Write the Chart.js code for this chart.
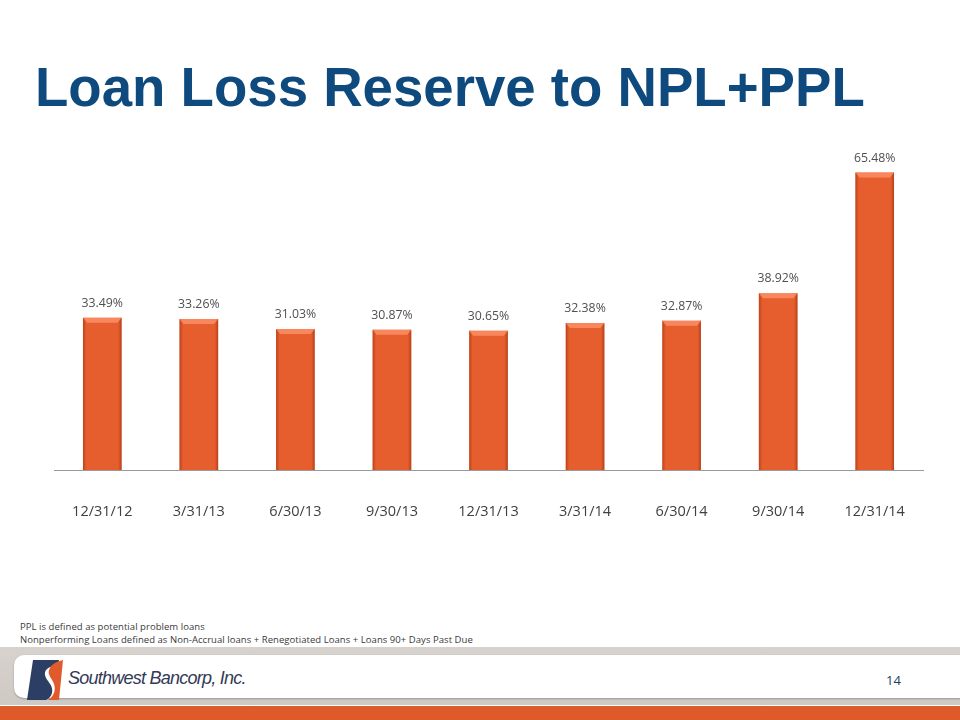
<!DOCTYPE html>
<html>
<head>
<meta charset="utf-8">
<script src="https://cdn.jsdelivr.net/npm/chart.js@4/dist/chart.umd.min.js"></script>
<style>
  html, body { margin: 0; padding: 0; background: #ffffff; }
  #page { position: relative; width: 960px; height: 720px; overflow: hidden; background: #fff; }
  #title { position: absolute; left: 35px; top: 56px; font-family: "Liberation Sans", Arial, sans-serif; font-weight: bold; font-size: 54.6px; color: #0e4a7d; white-space: nowrap; }
  #c { position: absolute; left: 0; top: 140px; }
  .note { position: absolute; left: 20px; font-family: "Open Sans", sans-serif; font-size: 9.5px; color: #3a3a3a; white-space: nowrap; letter-spacing: 0.05px; }
  #band { position: absolute; left: 0; top: 647px; width: 960px; height: 58px; background: linear-gradient(#d8d2ce, #cfc9c4); }
  #panel { position: absolute; left: 14px; top: 655px; width: 960px; height: 43px; background: #fff; border-radius: 10px 0 0 10px; box-shadow: 0 1px 2px rgba(0,0,0,0.25); }
  #orange { position: absolute; left: 0; top: 706px; width: 960px; height: 14px; background: #df5a2b; }
  #brand { position: absolute; left: 68px; top: 668px; font-family: "Liberation Sans", Arial, sans-serif; font-style: italic; font-size: 18px; color: #333a55; letter-spacing: -0.75px; white-space: nowrap; }
  #pnum { position: absolute; left: 886px; top: 671px; font-family: "Open Sans", sans-serif; font-size: 13px; color: #1f3d63; }
</style>
</head>
<body>
<div id="page">
  <div id="title">Loan Loss Reserve to NPL+PPL</div>
  <canvas id="c" width="960" height="390" style="width:960px;height:390px;"></canvas>
  <div class="note" style="top:620px;">PPL is defined as potential problem loans</div>
  <div class="note" style="top:633px;">Nonperforming Loans defined as Non-Accrual loans + Renegotiated Loans + Loans 90+ Days Past Due</div>
  <div id="band"></div>
  <div id="panel"></div>
  <div id="orange"></div>
  <svg style="position:absolute;left:25px;top:658px;" width="40" height="44" viewBox="0 0 40 44">
    <path d="M8 2 L34 2 L33 7 C25 8 19 11 20 17 C21 23 29 27 27 35 C26 39 23 41 21 42 L2 42 Z" fill="#2c3e63"/>
    <path d="M38 2 L34 42 L23 42 C29 38 31 32 29 26 C27 20 21 16 25 10 C27 6 31 4 38 2 Z" fill="#e05a2b"/>
  </svg>
  <div id="brand">Southwest Bancorp, Inc.</div>
  <div id="pnum">14</div>
</div>
<script>
const categories = ["12/31/12", "3/31/13", "6/30/13", "9/30/13", "12/31/13", "3/31/14", "6/30/14", "9/30/14", "12/31/14"];
const reserveRatio = [33.49, 33.26, 31.03, 30.87, 30.65, 32.38, 32.87, 38.92, 65.48];
const valueLabels = ["33.49%", "33.26%", "31.03%", "30.87%", "30.65%", "32.38%", "32.87%", "38.92%", "65.48%"];

const bevelPlugin = {
  id: 'bevel',
  afterDatasetsDraw(chart) {
    const ctx = chart.ctx;
    const meta = chart.getDatasetMeta(0);
    meta.data.forEach((bar) => {
      const w = bar.width;
      const left = bar.x - w / 2;
      const top = bar.y;
      const h = bar.base - bar.y;
      ctx.save();
      let g = ctx.createLinearGradient(left, 0, left + w, 0);
      g.addColorStop(0, 'rgba(150,45,10,0.55)');
      g.addColorStop(0.09, 'rgba(150,45,10,0.0)');
      g.addColorStop(0.91, 'rgba(150,45,10,0.0)');
      g.addColorStop(1, 'rgba(150,45,10,0.6)');
      ctx.fillStyle = g;
      ctx.fillRect(left, top, w, h);
      ctx.beginPath();
      ctx.moveTo(left, top);
      ctx.lineTo(left + w, top);
      ctx.lineTo(left + w - 4, top + 5);
      ctx.lineTo(left + 4, top + 5);
      ctx.closePath();
      ctx.fillStyle = 'rgba(255,150,110,0.75)';
      ctx.fill();
      ctx.restore();
    });
  }
};

const labelPlugin = {
  id: 'valueLabels',
  afterDatasetsDraw(chart) {
    const ctx = chart.ctx;
    const meta = chart.getDatasetMeta(0);
    ctx.save();
    ctx.font = '12.3px "Open Sans", sans-serif';
    ctx.fillStyle = '#505050';
    ctx.textAlign = 'center';
    ctx.textBaseline = 'alphabetic';
    meta.data.forEach((bar, i) => {
      ctx.fillText(valueLabels[i], bar.x, bar.y - 11);
    });
    ctx.restore();
  }
};

new Chart(document.getElementById('c'), {
  type: 'bar',
  data: {
    labels: categories,
    datasets: [{
      data: reserveRatio,
      backgroundColor: '#e75e2e',
      borderWidth: 0,
      barPercentage: 0.4,
      categoryPercentage: 1.0
    }]
  },
  options: {
    responsive: false,
    maintainAspectRatio: false,
    devicePixelRatio: 1,
    animation: false,
    layout: { padding: { left: 54, right: 37, top: 12, bottom: 0 } },
    plugins: { legend: { display: false }, tooltip: { enabled: false }, title: { display: false } },
    scales: {
      x: {
        grid: { display: false },
        border: { display: true, color: '#9a9a9a', width: 1 },
        ticks: { color: '#404040', font: { family: '"Open Sans", sans-serif', size: 14.5 }, padding: 25, maxRotation: 0 },
        afterFit(scale) { scale.height = 60; }
      },
      y: {
        display: false,
        min: 0,
        max: 70
      }
    }
  },
  plugins: [bevelPlugin, labelPlugin]
});
</script>
</body>
</html>
